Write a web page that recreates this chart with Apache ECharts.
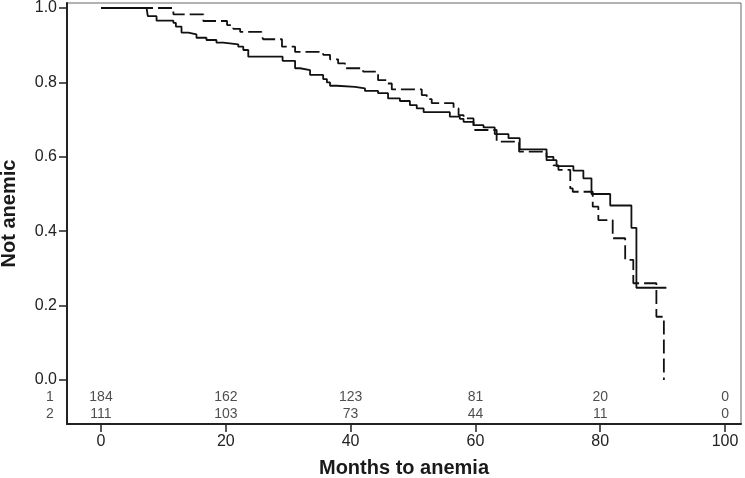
<!DOCTYPE html>
<html><head><meta charset="utf-8">
<script src="https://cdn.jsdelivr.net/npm/echarts@6/dist/echarts.min.js"></script>
<style>html,body{margin:0;padding:0;background:#fff}#c{width:745px;height:478px}</style>
</head><body><div id="c"></div>
<script>
// Kaplan-Meier step data: [months, proportion not anemic]
const group1 = [[0,1],[7.3,0.996],[7.5,0.978],[8.9,0.966],[11.6,0.960],[12,0.950],[12.9,0.934],[14,0.929],[15.3,0.920],[16.9,0.914],[18.5,0.907],[19.6,0.902],[22,0.896],[22.8,0.887],[23.6,0.869],[29.1,0.858],[31.1,0.838],[31.9,0.833],[33.5,0.820],[35.6,0.809],[36.2,0.800],[36.7,0.791],[37.8,0.788],[40.7,0.784],[42.3,0.777],[44.4,0.771],[46,0.757],[47.9,0.750],[49.5,0.739],[50.6,0.730],[51.7,0.720],[55.9,0.708],[57.5,0.702],[58.1,0.694],[59.7,0.685],[61.3,0.679],[63.1,0.661],[65.3,0.650],[67.1,0.620],[71.4,0.591],[73,0.575],[75.7,0.563],[77.3,0.542],[78.6,0.500],[81.6,0.469],[85,0.409],[85.8,0.248],[90.6,0.248]];
const group2 = [[0,1],[11.6,0.983],[16.4,0.965],[20.2,0.954],[21.2,0.944],[22.3,0.936],[25.7,0.925],[26,0.916],[29,0.896],[31.1,0.882],[35.6,0.874],[36.7,0.862],[38,0.851],[39.1,0.838],[42,0.829],[44.4,0.806],[45.8,0.797],[46.6,0.781],[51.4,0.766],[52.2,0.755],[53,0.744],[56.5,0.730],[57.3,0.712],[58.1,0.703],[59.7,0.672],[63.4,0.641],[67,0.614],[71.4,0.600],[72.5,0.577],[73.3,0.565],[75.2,0.515],[75.6,0.506],[78.8,0.466],[79.7,0.430],[82,0.381],[84,0.323],[85.3,0.260],[89,0.170],[90.2,0]];
// Numbers at risk
const riskTimes = [0,20,40,60,80,100];
const riskGroup1 = [184,162,123,81,20,0];
const riskGroup2 = [111,103,73,44,11,0];
const riskLabels = ['1','2'];
const xTicks = [0,20,40,60,80,100];
const yTicks = [0,0.2,0.4,0.6,0.8,1.0];

const FONT = 'Liberation Sans, Arial, Helvetica, sans-serif';
const row1Y = -0.0457, row2Y = -0.0914, labelX = -8.2;
const riskData = [];
riskTimes.forEach((t,i)=>{riskData.push([t,row1Y,riskGroup1[i]]);riskData.push([t,row2Y,riskGroup2[i]]);});
riskData.push([labelX,row1Y,riskLabels[0]]);
riskData.push([labelX,row2Y,riskLabels[1]]);

const chart = echarts.init(document.getElementById('c'), null, {renderer:'canvas'});
chart.setOption({
  animation:false,
  backgroundColor:'#fff',
  grid:{left:67,right:4,top:3,bottom:54,containLabel:false,outerBoundsMode:'none',
    show:true,borderColor:'#666',borderWidth:1,backgroundColor:'transparent'},
  xAxis:{type:'value',min:-5.45,max:102.56,
    name:'Months to anemia',nameLocation:'middle',nameGap:34,
    nameTextStyle:{fontFamily:FONT,fontSize:20,fontWeight:'bold',color:'#1a1a1a'},
    axisLine:{show:true,onZero:false,lineStyle:{color:'#222',width:2}},
    axisTick:{show:true,length:8,lineStyle:{color:'#222',width:1.5},customValues:xTicks},
    axisLabel:{fontFamily:FONT,fontSize:16,color:'#222',margin:10,customValues:xTicks},
    splitLine:{show:false}},
  yAxis:{type:'value',min:-0.1183,max:1.0134,
    name:'Not anemic',nameLocation:'middle',nameGap:48,nameRotate:90,
    nameTextStyle:{fontFamily:FONT,fontSize:20,fontWeight:'bold',color:'#1a1a1a'},
    axisLine:{show:true,onZero:false,lineStyle:{color:'#222',width:2}},
    axisTick:{show:true,length:8,lineStyle:{color:'#222',width:1.5},customValues:yTicks},
    axisLabel:{fontFamily:FONT,fontSize:16,color:'#222',margin:10,customValues:yTicks,formatter:v=>v.toFixed(1)},
    splitLine:{show:false}},
  series:[
    {type:'line',name:'1',data:group1,step:'end',showSymbol:false,symbol:'none',
     lineStyle:{color:'#111',width:1.8,type:'solid'}},
    {type:'line',name:'2',data:group2,step:'end',showSymbol:false,symbol:'none',
     lineStyle:{color:'#111',width:1.8,type:[14,5]}},
    {type:'scatter',data:riskData,symbolSize:1,itemStyle:{color:'transparent'},clip:false,
     label:{show:true,position:'inside',formatter:p=>String(p.value[2]),
       fontFamily:FONT,fontSize:14,color:'#222'}}
  ]
});
</script></body></html>
